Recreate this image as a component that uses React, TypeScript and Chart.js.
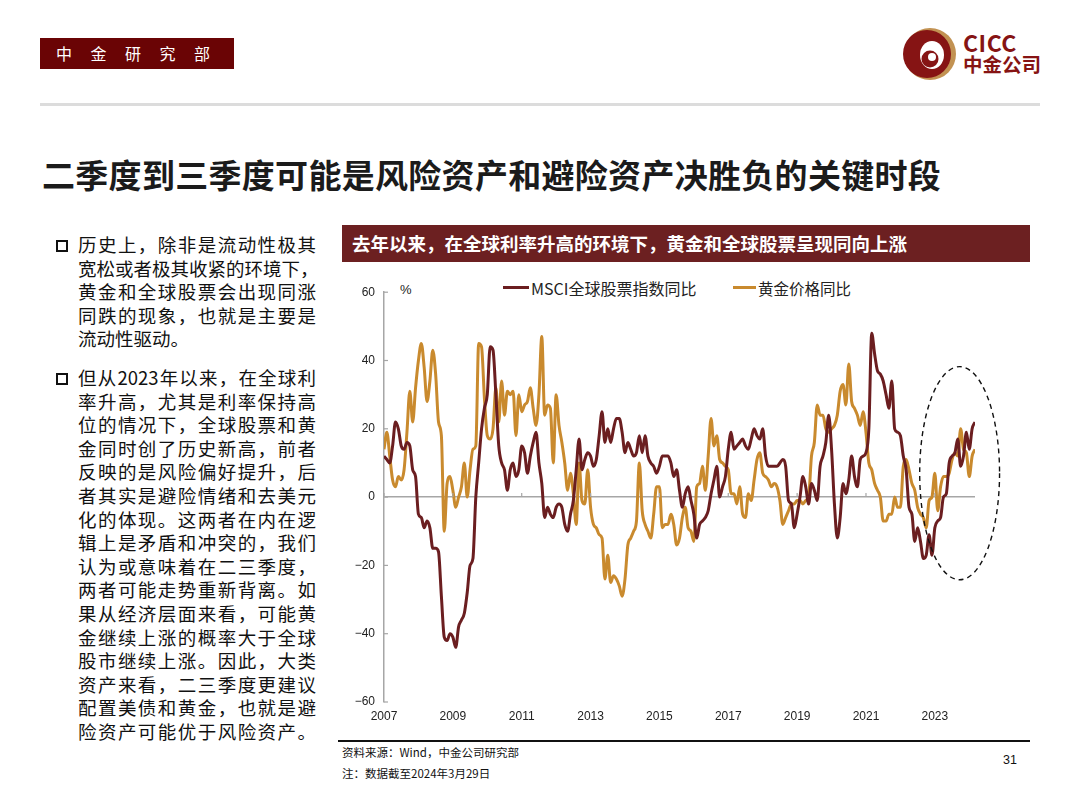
import React, { useEffect, useRef } from "react";
import { Chart, registerables } from "chart.js";

Chart.register(...registerables);

// ---------- data (monthly, Jan 2007 – Mar 2024, YoY %) ----------
const START_YEAR = 2007;
const xTickStepYears = 2;
const yTickValues = [60, 40, 20, 0, -20, -40, -60];

const msciYoY = [
  // 2007
  12, 11, 10, 15, 22, 20, 15, 14, 16, 15, 8, 6,
  // 2008
  -5, -6, -9, -7, -9, -15, -15, -16, -29, -41, -42, -40,
  // 2009
  -41, -44, -38, -36, -34, -28, -20, -18, 0, 10, 20, 26,
  // 2010
  30, 44, 43, 30, 15, 10, 8, 2, 8, 10, 6, 8,
  // 2011
  15, 13, 7, 12, 16, 19, 10, 4, -6, -3, -5, -6,
  // 2012
  -3, -2, -3, -8, -10, -5, -1, 8, 17, 8, 11, 13,
  // 2013
  12, 9, 11, 18, 25, 16, 20, 16, 20, 23, 23, 19,
  // 2014
  13, 16, 14, 12, 13, 18, 13, 18, 12, 10, 9, 7,
  // 2015
  9, 12, 12, 12, 10, 6, 8, 2, -3, 1, 3, -1,
  // 2016
  -5, -12, -8, -7, -6, -4, 1, 5, 9, 0, 3, 6,
  // 2017
  14, 19, 14, 15, 16, 17, 15, 14, 17, 20, 18, 17,
  // 2018
  20, 12, 9, 9, 9, 9, 10, 11, 9, -1, -2, -9,
  // 2019
  -5, 0, 6, 3, -2, 4, 2, -1, 9, 12, 16, 24,
  // 2020
  14, -2, -12, -6, 4, 1, 5, 12, 6, 3, 11, 12,
  // 2021
  13, 20, 48, 42, 37, 36, 34, 30, 26, 34, 20, 19,
  // 2022
  18, 12, 8, -3, -5, -13, -9, -13, -18, -17, -11, -17,
  // 2023
  -9, -7, -6, 0, 1, 10, 12, 13, 17, 9, 12, 19,
  // 2024
  14, 20, 22,
];

const goldYoY = [
  // 2007
  14, 19, 12, 5, 3, 6, 5, 8, 19, 31, 22, 32,
  // 2008
  40, 45, 38, 28, 34, 43, 36, 22, 18, -10, 4, 6,
  // 2009
  2, -3, 0, 3, 10, 0, 8, 14, 15, 45, 44, 29,
  // 2010
  18, 17, 20, 32, 22, 34, 24, 31, 30, 31, 18, 30,
  // 2011
  25, 27, 28, 32, 26, 21, 30, 47, 24, 27, 26, 10,
  // 2012
  30, 21, 16, 10, 2, 7, 1, -8, 10, -1, -2, 8,
  // 2013
  -3, -8, -9, -11, -12, -24, -17, -25, -23, -24, -26, -29,
  // 2014
  -24, -14, -12, -10, -7, 10, -4, -8, -10, -12, -5, 3,
  // 2015
  3, -9, -8, -8, -5, -8, -14, -12, -6, -3, -9, -10,
  // 2016
  -13, 3, 4, 9, 2, 12, 23, 15, 18, 11, 10, 9,
  // 2017
  8, 1, 1, -2, 3, -5, -6, 1, -1, 5, 11, 13,
  // 2018
  7, 6, 5, 3, 4, 3, -1, -8, -6, -4, -2, -2,
  // 2019
  -1, -1, -2, -1, 0, 12, 16, 27, 24, 24, 20, 19,
  // 2020
  20, 21, 24, 31, 33, 27, 39, 28, 26, 24, 21, 25,
  // 2021
  19, 10, 8, 4, 2, 0, -7, -7, -5, -5, 0, -3,
  // 2022
  -3, 9, 11, 8, 4, 2, -3, -5, -6, -9, -1, 0,
  // 2023
  7, -4, 3, 6, 6, 7, 11, 13, 12, 20, 14, 13,
  // 2024
  6, 12, 14,
];

const seriesNames = ["MSCI全球股票指数同比", "黄金价格同比"];
const seriesColors = ["#6B1E20", "#C98A2E"];

// highlighted region (years since 2007, value %)
const focusEllipse = { cx: 16.72, cy: 7, rx: 1.16, ry: 31.2 };

const leftPara1 = [
  "历史上，除非是流动性极其",
  "宽松或者极其收紧的环境下，",
  "黄金和全球股票会出现同涨",
  "同跌的现象，也就是主要是",
  "流动性驱动。",
];
const leftPara2 = [
  "但从2023年以来，在全球利",
  "率升高，尤其是利率保持高",
  "位的情况下，全球股票和黄",
  "金同时创了历史新高，前者",
  "反映的是风险偏好提升，后",
  "者其实是避险情绪和去美元",
  "化的体现。这两者在内在逻",
  "辑上是矛盾和冲突的，我们",
  "认为或意味着在二三季度，",
  "两者可能走势重新背离。如",
  "果从经济层面来看，可能黄",
  "金继续上涨的概率大于全球",
  "股市继续上涨。因此，大类",
  "资产来看，二三季度更建议",
  "配置美债和黄金，也就是避",
  "险资产可能优于风险资产。",
];

const CJK = '"Noto Sans CJK SC", "Noto Sans", sans-serif';
const NUM = '"Liberation Sans", Arial, sans-serif';

const toPoints = (arr: number[]) => arr.map((v, i) => ({ x: i / 12, y: v }));

const decorPlugin = {
  id: "decor",
  afterDatasetsDraw(chart: any) {
    const { ctx, scales } = chart;
    const xs = scales.x;
    const ys = scales.y;
    const y0 = ys.getPixelForValue(0);
    ctx.save();
    ctx.strokeStyle = "#a6a6a6";
    ctx.lineWidth = 1.2;
    // inward y ticks
    yTickValues.forEach((v) => {
      const py = ys.getPixelForValue(v);
      ctx.beginPath();
      ctx.moveTo(xs.left, py);
      ctx.lineTo(xs.left + 4, py);
      ctx.stroke();
    });
    // x ticks on zero line
    xs.ticks.forEach((t: any) => {
      const px = xs.getPixelForValue(t.value);
      ctx.beginPath();
      ctx.moveTo(px, y0);
      ctx.lineTo(px, y0 - 4);
      ctx.stroke();
    });
    // dashed ellipse
    const cx = xs.getPixelForValue(focusEllipse.cx);
    const cy = ys.getPixelForValue(focusEllipse.cy);
    const rx = Math.abs(xs.getPixelForValue(focusEllipse.cx + focusEllipse.rx) - cx);
    const ry = Math.abs(ys.getPixelForValue(focusEllipse.cy + focusEllipse.ry) - cy);
    ctx.strokeStyle = "#111";
    ctx.lineWidth = 1.4;
    ctx.setLineDash([5, 4]);
    ctx.beginPath();
    ctx.ellipse(cx, cy, rx, ry, 0, 0, Math.PI * 2);
    ctx.stroke();
    ctx.restore();
  },
};

function LineChart() {
  const ref = useRef<HTMLCanvasElement | null>(null);
  useEffect(() => {
    if (!ref.current) return;
    const chart = new Chart(ref.current, {
      type: "line",
      data: {
        datasets: [
          {
            label: seriesNames[0],
            data: toPoints(msciYoY),
            borderColor: seriesColors[0],
            backgroundColor: seriesColors[0],
            borderWidth: 3,
            pointRadius: 0,
            cubicInterpolationMode: "monotone",
          },
          {
            label: seriesNames[1],
            data: toPoints(goldYoY),
            borderColor: seriesColors[1],
            backgroundColor: seriesColors[1],
            borderWidth: 3,
            pointRadius: 0,
            cubicInterpolationMode: "monotone",
          },
        ],
      },
      options: {
        animation: false,
        responsive: false,
        maintainAspectRatio: false,
        layout: { padding: { top: 10, right: 45, left: 0, bottom: 0 } },
        plugins: { legend: { display: false }, tooltip: { enabled: false } },
        scales: {
          x: {
            type: "linear",
            min: 0,
            max: (msciYoY.length - 1) / 12,
            grid: { display: false, drawTicks: false },
            border: { display: false },
            ticks: {
              stepSize: xTickStepYears,
              includeBounds: false,
              maxRotation: 0,
              autoSkip: false,
              padding: 7,
              color: "#222",
              font: { family: NUM, size: 12 },
              callback: (v: any) => String(START_YEAR + Math.round(Number(v))),
            },
            afterFit: (s: any) => {
              s.height = 24;
            },
          },
          y: {
            min: -60,
            max: 60,
            grid: {
              drawTicks: false,
              lineWidth: 1.5,
              color: (c: any) => (c.tick && c.tick.value === 0 ? "#a6a6a6" : "rgba(0,0,0,0)"),
            },
            border: { display: true, color: "#a6a6a6", width: 1.5 },
            ticks: {
              stepSize: 20,
              padding: 9,
              color: "#222",
              font: { family: NUM, size: 12 },
              callback: (v: any) => (Number(v) < 0 ? "\u2212" + Math.abs(Number(v)) : String(v)),
            },
            afterFit: (s: any) => {
              s.width = 44;
            },
          },
        },
      },
      plugins: [decorPlugin],
    });
    return () => chart.destroy();
  }, []);
  return (
    <canvas
      ref={ref}
      width={680}
      height={450}
      style={{ position: "absolute", left: 340, top: 276, width: 680, height: 450 }}
    />
  );
}

function Bullet({ top }: { top: number }) {
  return (
    <div
      style={{
        position: "absolute",
        left: 56,
        top,
        width: 8,
        height: 8,
        border: "2px solid #111",
      }}
    />
  );
}

function Para({ lines, top }: { lines: string[]; top: number }) {
  return (
    <div style={{ position: "absolute", left: 78, top, width: 238 }}>
      {lines.map((l, i) => (
        <div
          key={i}
          style={{
            height: 23.6,
            lineHeight: "23.6px",
            fontSize: 18.5,
            whiteSpace: "nowrap",
            textAlign: i === lines.length - 1 && l.length < 10 ? "left" : "justify",
            textAlignLast: i === lines.length - 1 && l.length < 10 ? "left" : "justify",
            color: "#111",
          } as any}
        >
          {l}
        </div>
      ))}
    </div>
  );
}

function Logo() {
  return (
    <div style={{ position: "absolute", left: 903, top: 27 }}>
      <svg width="56" height="56" viewBox="0 0 56 56" style={{ position: "absolute", left: 0, top: 0 }}>
        <circle cx="27" cy="27" r="26" fill="#C29252" />
        <circle cx="24" cy="27" r="24" fill="#861414" />
        <ellipse cx="29" cy="28" rx="12" ry="14" fill="#fff" />
        <circle cx="27" cy="32" r="8.5" fill="#861414" />
        <circle cx="29" cy="30" r="4" fill="#fff" />
      </svg>
      <div
        style={{
          position: "absolute",
          left: 60,
          top: 3,
          fontFamily: CJK,
          fontWeight: 700,
          fontSize: 23,
          lineHeight: "24px",
          color: "#861414",
          letterSpacing: 0.5,
        }}
      >
        CICC
      </div>
      <div
        style={{
          position: "absolute",
          left: 60,
          top: 26,
          fontFamily: CJK,
          fontWeight: 700,
          fontSize: 19.5,
          lineHeight: "22px",
          color: "#861414",
          whiteSpace: "nowrap",
        }}
      >
        中金公司
      </div>
    </div>
  );
}

export default function App() {
  return (
    <div
      style={{
        position: "relative",
        width: 1080,
        height: 807,
        overflow: "hidden",
        background: "#fff",
        fontFamily: CJK,
        color: "#111",
      }}
    >
      <style>{`body{margin:0;}`}</style>
      {/* header tag */}
      <div
        style={{
          position: "absolute",
          left: 40,
          top: 38,
          width: 194,
          height: 31,
          background: "#6A0405",
          color: "#fff",
          fontSize: 16,
          lineHeight: "31px",
          letterSpacing: 18.5,
          paddingLeft: 16,
          boxSizing: "border-box",
          whiteSpace: "nowrap",
        }}
      >
        中金研究部
      </div>
      <Logo />
      <div style={{ position: "absolute", left: 40, top: 103, width: 1000, height: 3, background: "#dcdcdc" }} />
      {/* slide title */}
      <div
        style={{
          position: "absolute",
          left: 42,
          top: 154,
          fontSize: 33,
          lineHeight: "40px",
          fontWeight: 700,
          color: "#1b1b1b",
          whiteSpace: "nowrap",
          letterSpacing: 0.3,
        }}
      >
        二季度到三季度可能是风险资产和避险资产决胜负的关键时段
      </div>
      {/* left text */}
      <Bullet top={240} />
      <Para lines={leftPara1} top={233} />
      <Bullet top={373} />
      <Para lines={leftPara2} top={366} />
      {/* chart title bar */}
      <div
        style={{
          position: "absolute",
          left: 342,
          top: 225,
          width: 688,
          height: 37,
          background: "#6C2021",
          color: "#fff",
          fontSize: 18.5,
          fontWeight: 700,
          lineHeight: "37px",
          paddingLeft: 10,
          boxSizing: "border-box",
          whiteSpace: "nowrap",
        }}
      >
        去年以来，在全球利率升高的环境下，黄金和全球股票呈现同向上涨
      </div>
      {/* legend */}
      <div style={{ position: "absolute", left: 400, top: 282, fontFamily: NUM, fontSize: 13, lineHeight: "16px", color: "#222" }}>%</div>
      <div style={{ position: "absolute", left: 503, top: 286, width: 26, height: 3, background: seriesColors[0] }} />
      <div style={{ position: "absolute", left: 531, top: 278, fontSize: 16, lineHeight: "20px", color: "#222", whiteSpace: "nowrap" }}>
        {seriesNames[0]}
      </div>
      <div style={{ position: "absolute", left: 733, top: 286, width: 23, height: 3, background: seriesColors[1] }} />
      <div style={{ position: "absolute", left: 758, top: 278, fontSize: 15.5, lineHeight: "20px", color: "#222", whiteSpace: "nowrap" }}>
        {seriesNames[1]}
      </div>
      <LineChart />
      {/* footer */}
      <div style={{ position: "absolute", left: 338, top: 740, width: 692, height: 1.5, background: "#111" }} />
      <div style={{ position: "absolute", left: 342, top: 744, fontSize: 11.5, lineHeight: "16px", whiteSpace: "nowrap" }}>
        资料来源：Wind，中金公司研究部
      </div>
      <div style={{ position: "absolute", left: 342, top: 765, fontSize: 11.5, lineHeight: "16px", whiteSpace: "nowrap" }}>
        注：数据截至2024年3月29日
      </div>
      <div style={{ position: "absolute", left: 1003, top: 752, fontFamily: NUM, fontSize: 12.5, lineHeight: "16px" }}>31</div>
    </div>
  );
}
